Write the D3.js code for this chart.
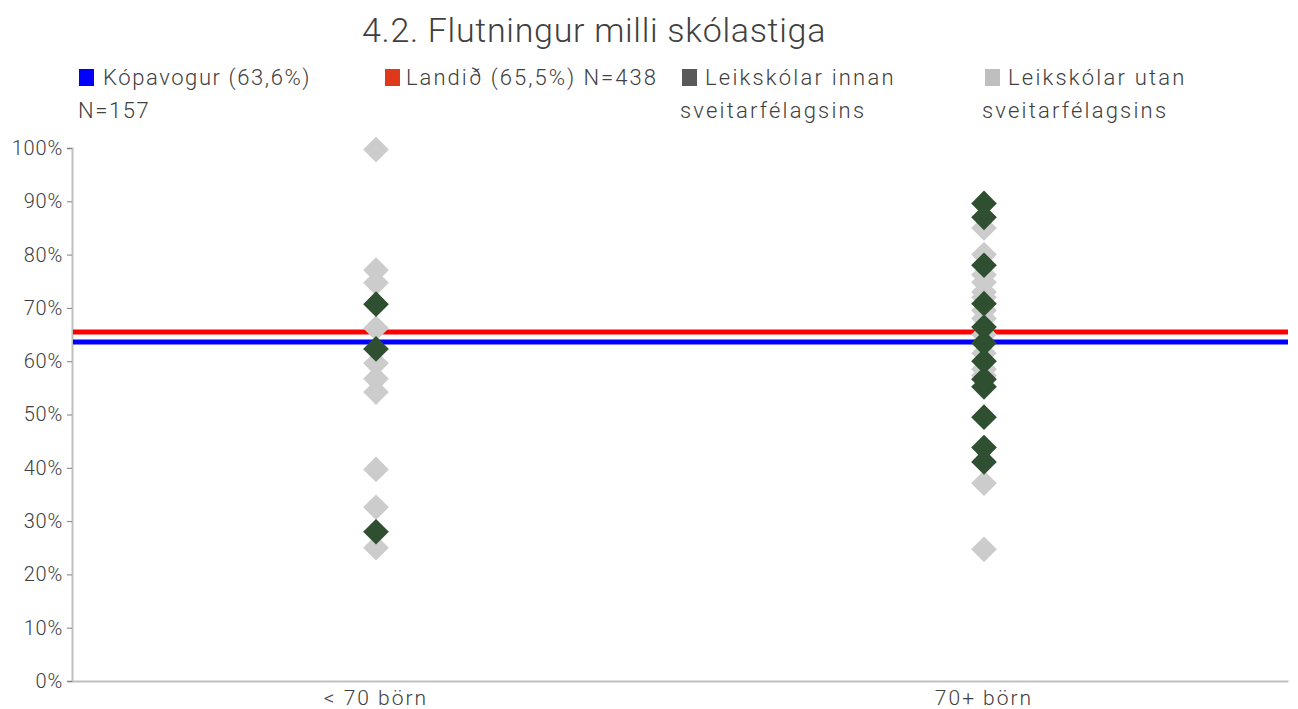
<!DOCTYPE html>
<html>
<head>
<meta charset="utf-8">
<script src="https://cdn.jsdelivr.net/npm/d3@7"></script>
<style>
  html, body { margin: 0; padding: 0; background: #fff; }
  svg { display: block; font-family: Roboto, "Open Sans", sans-serif; }
</style>
</head>
<body>
<svg id="chart" width="1298" height="709"></svg>
<script>
// Categories on the x axis
const categories = ["< 70 börn", "70+ börn"];

// Share of children moving on to a school within the municipality (dark diamonds)
const innanSmall = [70.7, 62.3, 28.0];
const innanLarge = [89.6, 87.0, 78.0, 70.8, 66.4, 63.4, 60.0, 56.6, 55.2, 49.5, 43.8, 41.1];

// Share of children moving on to a school outside the municipality (light diamonds)
const utanSmall = [99.7, 77.1, 74.7, 66.2, 59.6, 56.7, 54.2, 39.7, 32.6, 25.0];
const utanLarge = [85.0, 80.0, 76.2, 74.8, 73.0, 72.0, 69.5, 68.0, 65.0, 61.5, 58.5, 57.3, 37.1, 24.7];

// Reference lines
const kopavogurValue = 63.6;
const landidValue = 65.5;

// Y axis ticks
const yTicks = [0, 10, 20, 30, 40, 50, 60, 70, 80, 90, 100];

// Legend entries
const legendItems = [
  { color: "#0000FF", lines: ["Kópavogur (63,6%)", "N=157"], x: 79, firstIndent: 24, secondIndent: -1, spacing: 1.6 },
  { color: "#E0381A", lines: ["Landið (65,5%) N=438"], x: 385, firstIndent: 21, secondIndent: 0, spacing: 2 },
  { color: "#595959", lines: ["Leikskólar innan", "sveitarfélagsins"], x: 682, firstIndent: 23, secondIndent: -2, spacing: 2.2 },
  { color: "#BFBFBF", lines: ["Leikskólar utan", "sveitarfélagsins"], x: 985, firstIndent: 23, secondIndent: -3, spacing: 2.2 }
];

const svg = d3.select("#chart");
const textColor = "#404040";
const axisColor = "#BFBFBF";

const margin = { left: 72, right: 10, top: 148, bottom: 28 };
const width = 1298, height = 709;

const x = d3.scaleBand().domain(categories).range([margin.left, width - margin.right]).padding(0);
const y = d3.scaleLinear().domain([0, 100]).range([681, 148]);

// Title
svg.append("text")
  .attr("x", 362).attr("y", 42)
  .attr("font-size", 34).attr("font-weight", 300)
  .attr("letter-spacing", 0.7)
  .attr("fill", textColor)
  .text("4.2. Flutningur milli skólastiga");

// Legend
legendItems.forEach(item => {
  svg.append("rect")
    .attr("x", item.x).attr("y", 69)
    .attr("width", 15).attr("height", 17)
    .attr("fill", item.color);
  item.lines.forEach((line, i) => {
    svg.append("text")
      .attr("x", item.x + (i === 0 ? item.firstIndent : item.secondIndent))
      .attr("y", 85 + i * 33)
      .attr("font-size", 22).attr("font-weight", 300)
      .attr("letter-spacing", item.spacing)
      .attr("fill", textColor)
      .text(line);
  });
});

// Y axis
const yAxis = d3.axisLeft(y)
  .tickValues(yTicks)
  .tickFormat(d => d + "%")
  .tickSize(5)
  .tickPadding(4);
const yG = svg.append("g")
  .attr("transform", `translate(${margin.left},0)`)
  .call(yAxis);
yG.select(".domain").attr("stroke", axisColor).attr("stroke-width", 2);
yG.selectAll(".tick line").attr("stroke", "#808080");
yG.selectAll(".tick text")
  .attr("font-size", 20).attr("font-weight", 300)
  .attr("font-family", "Roboto, sans-serif")
  .attr("letter-spacing", 0.8)
  .attr("fill", textColor);

// X axis
const xAxis = d3.axisBottom(x).tickSize(0).tickPadding(9);
const xG = svg.append("g")
  .attr("transform", `translate(0,${y(0)})`)
  .call(xAxis);
xG.select(".domain").attr("stroke", axisColor).attr("stroke-width", 2);
xG.selectAll(".tick text")
  .attr("font-size", 21).attr("font-weight", 300)
  .attr("font-family", "Roboto, sans-serif")
  .attr("letter-spacing", 2)
  .attr("fill", textColor);

// Reference lines
const lineX0 = margin.left + 1, lineX1 = width - margin.right;
[[landidValue, "#FF0000"], [kopavogurValue, "#0000FF"]].forEach(([v, c]) => {
  svg.append("line")
    .attr("x1", lineX0).attr("x2", lineX1)
    .attr("y1", y(v)).attr("y2", y(v))
    .attr("stroke", c).attr("stroke-width", 5);
});

// Diamond markers
const diamond = d3.symbol().type(d3.symbolSquare).size(330);
function drawDiamonds(values, cat, color) {
  const cx = x(cat) + x.bandwidth() / 2;
  svg.append("g").selectAll("path")
    .data(values)
    .join("path")
    .attr("d", diamond)
    .attr("transform", d => `translate(${cx},${y(d)}) rotate(45)`)
    .attr("fill", color);
}
drawDiamonds(utanSmall, categories[0], "#CCCCCC");
drawDiamonds(utanLarge, categories[1], "#CCCCCC");
drawDiamonds(innanSmall, categories[0], "#2F5030");
drawDiamonds(innanLarge, categories[1], "#2F5030");
</script>
</body>
</html>
